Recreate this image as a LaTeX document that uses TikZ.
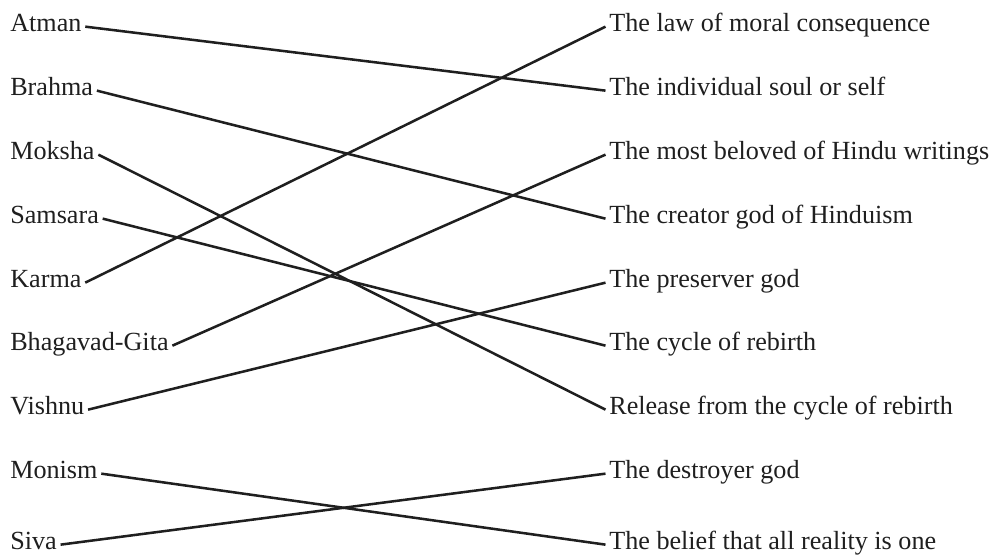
\documentclass[tikz,border=0pt]{standalone}
\usepackage{fontspec}
\setmainfont{Liberation Serif}
\usepackage{tikz}
\usetikzlibrary{positioning}

\begin{document}
\begin{tikzpicture}[
  x=0.025cm, y=-0.025cm,
  term/.style={anchor=base west, inner xsep=2.5pt, inner ysep=0pt, text height=0.62em,
               text depth=0pt, font=\fontsize{18.6}{22}\selectfont, text=black!88},
  meaning/.style={term},
  link/.style={line width=1.8pt, black!88},
]
\useasboundingbox (0,0) rectangle (1000,555);

% Terms on the left
\node[term] (atman)   at (6.5,31)  {Atman};
\node[term] (brahma)  at (6.5,95)  {Brahma};
\node[term] (moksha)  at (6.5,159) {Moksha};
\node[term] (samsara) at (6.5,223) {Samsara};
\node[term] (karma)   at (6.5,287) {Karma};
\node[term] (gita)    at (6.5,350) {Bhagavad-Gita};
\node[term] (vishnu)  at (6.5,414) {Vishnu};
\node[term] (monism)  at (6.5,478) {Monism};
\node[term] (siva)    at (6.5,549) {Siva};

% Meanings on the right
\node[meaning] (law)       at (605.5,31)  {The law of moral consequence};
\node[meaning] (soul)      at (605.5,95)  {The individual soul or self};
\node[meaning] (beloved)   at (605.5,159) {The most beloved of Hindu writings};
\node[meaning] (creator)   at (605.5,223) {The creator god of Hinduism};
\node[meaning] (preserver) at (605.5,287) {The preserver god};
\node[meaning] (cycle)     at (605.5,350) {The cycle of rebirth};
\node[meaning] (release)   at (605.5,414) {Release from the cycle of rebirth};
\node[meaning] (destroyer) at (605.5,478) {The destroyer god};
\node[meaning] (oneness)   at (605.5,549) {The belief that all reality is one};

% Matching lines
\draw[link] (atman.east) -- (soul.west);
\draw[link] (brahma.east) -- (creator.west);
\draw[link] (moksha.east) -- (release.west);
\draw[link] (samsara.east) -- (cycle.west);
\draw[link] (karma.east) -- (law.west);
\draw[link] (gita.east) -- (beloved.west);
\draw[link] (vishnu.east) -- (preserver.west);
\draw[link] (monism.east) -- (oneness.west);
\draw[link] (siva.east) -- (destroyer.west);

\end{tikzpicture}
\end{document}
